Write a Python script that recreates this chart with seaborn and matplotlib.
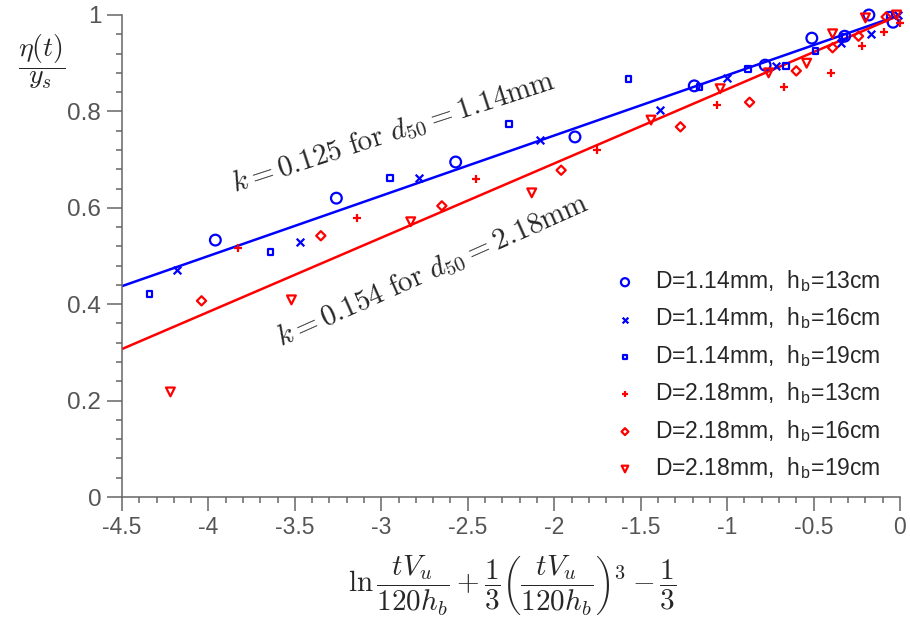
import numpy as np
import pandas as pd
import matplotlib
matplotlib.use("Agg")
import matplotlib.pyplot as plt
import seaborn as sns
from matplotlib.ticker import MultipleLocator, FormatStrFormatter

# data
x_d114_h13 = [-3.96, -3.26, -2.57, -1.88, -1.19, -0.78, -0.51, -0.32, -0.18, -0.04]
y_d114_h13 = [0.533, 0.620, 0.695, 0.747, 0.853, 0.896, 0.952, 0.956, 1.000, 0.985]

x_d114_h16 = [-4.18, -3.47, -2.78, -2.08, -1.39, -1.00, -0.72, -0.34, -0.17, -0.01]
y_d114_h16 = [0.471, 0.529, 0.662, 0.740, 0.802, 0.870, 0.894, 0.942, 0.960, 1.000]

x_d114_h19 = [-4.34, -3.64, -2.95, -2.26, -1.57, -1.16, -0.88, -0.66, -0.49, -0.32, -0.06]
y_d114_h19 = [0.421, 0.508, 0.662, 0.774, 0.867, 0.851, 0.888, 0.894, 0.925, 0.955, 1.000]

x_d218_h13 = [-3.83, -3.14, -2.45, -1.75, -1.06, -0.67, -0.40, -0.22, -0.09, 0.00]
y_d218_h13 = [0.517, 0.579, 0.660, 0.720, 0.813, 0.851, 0.879, 0.935, 0.965, 0.983]

x_d218_h16 = [-4.04, -3.35, -2.65, -1.96, -1.27, -0.87, -0.60, -0.39, -0.24, -0.08]
y_d218_h16 = [0.407, 0.542, 0.604, 0.678, 0.768, 0.819, 0.884, 0.932, 0.956, 0.996]

x_d218_h19 = [-4.22, -3.52, -2.83, -2.13, -1.44, -1.04, -0.76, -0.54, -0.39, -0.20, -0.02]
y_d218_h19 = [0.218, 0.409, 0.571, 0.631, 0.782, 0.847, 0.880, 0.900, 0.961, 0.994, 1.000]

line_x = [-4.5, 0.0]
line_y_114 = [0.4375, 1.0]   # k = 0.125
line_y_218 = [0.307, 1.0]    # k = 0.154

labels = ["D=1.14mm,  h$_\\mathregular{b}$=13cm", "D=1.14mm,  h$_\\mathregular{b}$=16cm",
          "D=1.14mm,  h$_\\mathregular{b}$=19cm", "D=2.18mm,  h$_\\mathregular{b}$=13cm",
          "D=2.18mm,  h$_\\mathregular{b}$=16cm", "D=2.18mm,  h$_\\mathregular{b}$=19cm"]

sns.set_style("ticks")
plt.rcParams["font.family"] = ["Liberation Sans", "DejaVu Sans"]
plt.rcParams["mathtext.fontset"] = "cm"
plt.rcParams["axes.unicode_minus"] = False

fig = plt.figure(figsize=(9.1, 6.26), dpi=100)
ax = fig.add_axes([122 / 910, 1 - 497 / 626, 778 / 910, 482 / 626])

blue = "#0000ff"
red = "#ff0000"

sns.lineplot(x=line_x, y=line_y_114, color=blue, lw=1.8, ax=ax)
sns.lineplot(x=line_x, y=line_y_218, color=red, lw=1.8, ax=ax)

series = [
    (x_d114_h13, y_d114_h13, "o", 60, blue, True),
    (x_d114_h16, y_d114_h16, "x", 30, blue, False),
    (x_d114_h19, y_d114_h19, "s", 16, blue, True),
    (x_d218_h13, y_d218_h13, "+", 40, red, False),
    (x_d218_h16, y_d218_h16, "D", 22, red, True),
    (x_d218_h19, y_d218_h19, "v", 40, red, True),
]
for (xs, ys, mk, sz, col, hollow), lab in zip(series, labels):
    df = pd.DataFrame({"x": xs, "y": ys})
    if hollow:
        sns.scatterplot(data=df, x="x", y="y", marker=mk, s=sz, facecolor="none",
                        edgecolor=col, linewidth=1.6, ax=ax, label=lab, clip_on=False, zorder=3)
    else:
        sns.scatterplot(data=df, x="x", y="y", marker=mk, s=sz, color=col,
                        linewidth=1.6, ax=ax, label=lab, clip_on=False, zorder=3)

ax.set_xlim(-4.5, 0)
ax.set_ylim(0, 1)
ax.xaxis.set_major_locator(MultipleLocator(0.5))
ax.xaxis.set_minor_locator(MultipleLocator(0.1))
ax.yaxis.set_major_locator(MultipleLocator(0.2))
ax.yaxis.set_minor_locator(MultipleLocator(0.04))
ax.xaxis.set_major_formatter(FormatStrFormatter("%g"))
ax.yaxis.set_major_formatter(FormatStrFormatter("%g"))
ax.tick_params(which="major", direction="out", length=10, width=1.1, color="#666666",
               labelsize=16.5, labelcolor="#555555", pad=4)
ax.tick_params(axis="y", which="major", length=11, labelsize=17.5)
ax.tick_params(which="minor", direction="out", length=4.5, width=1.1, color="#666666")
sns.despine(ax=ax)
for sp in ["left", "bottom"]:
    ax.spines[sp].set_color("#666666")
    ax.spines[sp].set_linewidth(1.1)
ax.set_xlabel("")
ax.set_ylabel("")

fig.text(42 / 910, 1 - 62 / 626, r"$\dfrac{\eta(t)}{y_s}$", fontsize=20,
         ha="center", va="center")
fig.text(512 / 910, 1 - 586 / 626,
         r"$\ln\dfrac{tV_u}{120h_b}+\dfrac{1}{3}\left(\dfrac{tV_u}{120h_b}\right)^3-\dfrac{1}{3}$",
         fontsize=21, ha="center", va="center")

ax.text(-2.93, 0.755, r"$k=0.125\ \mathrm{for}\ d_{50}=1.14\mathrm{mm}$", fontsize=21,
        rotation=18, ha="center", va="center", rotation_mode="anchor")
ax.text(-2.7, 0.47, r"$k=0.154\ \mathrm{for}\ d_{50}=2.18\mathrm{mm}$", fontsize=21,
        rotation=24, ha="center", va="center", rotation_mode="anchor")

leg = ax.legend(loc="center left", bbox_to_anchor=(0.62, 0.254), frameon=False,
                fontsize=16.5, handlelength=1.0, handletextpad=0.8, labelspacing=0.5,
                borderaxespad=0, markerscale=0.75)

fig.savefig("out.png", dpi=100)
